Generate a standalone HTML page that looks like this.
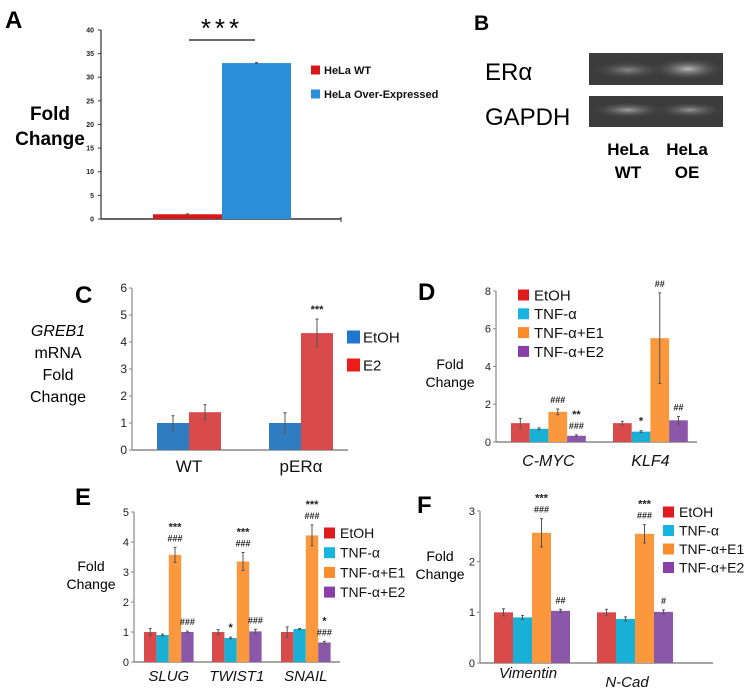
<!DOCTYPE html>
<html><head><meta charset="utf-8"><style>
body{margin:0;background:#fff}
svg{display:block;font-family:"Liberation Sans",Arial,sans-serif}
</style></head><body>
<svg id="s" width="747" height="695" viewBox="0 0 747 695" xmlns="http://www.w3.org/2000/svg">
<g>
<text x="474" y="30" font-size="21" font-weight="bold">B</text>
<text x="485" y="80" font-size="24">ERα</text>
<text x="485" y="125" font-size="24">GAPDH</text>
<defs><radialGradient id="bnd" cx="0.5" cy="0.5" r="0.5"><stop offset="0" stop-color="#bbb"/><stop offset="1" stop-color="#444" stop-opacity="0"/></radialGradient></defs>
<rect x="589" y="53" width="134" height="32" fill="#3c3c3c"/>
<ellipse cx="628" cy="70" rx="36" ry="9" fill="url(#bnd)" opacity="0.6"/>
<ellipse cx="688" cy="69" rx="36" ry="11" fill="url(#bnd)" opacity="1"/>
<rect x="589" y="96" width="134" height="31" fill="#3c3c3c"/>
<ellipse cx="628" cy="110" rx="36" ry="8" fill="url(#bnd)" opacity="0.8"/>
<ellipse cx="690" cy="110" rx="34" ry="8" fill="url(#bnd)" opacity="0.7"/>
<g font-size="17" font-weight="bold" text-anchor="middle">
<text x="628" y="155">HeLa</text>
<text x="628" y="178">WT</text>
<text x="687" y="155">HeLa</text>
<text x="687" y="178">OE</text>
</g></g>
</svg>
<script>
// Panel A
const aCats=["HeLa WT","HeLa Over-Expressed"];
const aVals=[1,33];
const aErr=[0.1,0.1];
const aTicks=[0,5,10,15,20,25,30,35,40];
// Panel C
const cCats=["WT","pERα"];
const cSeries=["EtOH","E2"];
const cEtOH=[1,1];
const cE2=[1.4,4.33];
const cEtOHErr=[0.27,0.38];
const cE2Err=[0.28,0.52];
const cTicks=[0,1,2,3,4,5,6];
// Panel D
const dCats=["C-MYC","KLF4"];
const dSeries=["EtOH","TNF-α","TNF-α+E1","TNF-α+E2"];
const dEtOH=[1.0,1.0];
const dTNF=[0.7,0.55];
const dE1=[1.6,5.5];
const dE2=[0.33,1.15];
const dErrEtOH=[0.25,0.1], dErrTNF=[0.05,0.05], dErrE1=[0.15,2.4], dErrE2=[0.05,0.2];
const dTicks=[0,2,4,6,8];
// Panel E
const eCats=["SLUG","TWIST1","SNAIL"];
const eEtOH=[1.0,1.0,1.0];
const eTNF=[0.9,0.8,1.1];
const eE1=[3.57,3.35,4.22];
const eE2=[1.0,1.02,0.65];
const eErrEtOH=[0.12,0.08,0.17], eErrTNF=[0.03,0.03,0.02], eErrE1=[0.25,0.3,0.35], eErrE2=[0.03,0.07,0.04];
const eTicks=[0,1,2,3,4,5];
// Panel F
const fCats=["Vimentin","N-Cad"];
const fEtOH=[1.0,1.0];
const fTNF=[0.9,0.87];
const fE1=[2.57,2.55];
const fE2=[1.03,1.01];
const fErrEtOH=[0.07,0.06], fErrTNF=[0.04,0.04], fErrE1=[0.28,0.18], fErrE2=[0.03,0.04];
const fTicks=[0,1,2,3];

const NS="http://www.w3.org/2000/svg";
const svg=document.getElementById('s');
function mk(tag,attrs,parent,txt){const e=document.createElementNS(NS,tag);for(const k in attrs)e.setAttribute(k,attrs[k]);if(txt!==undefined)e.textContent=txt;(parent||svg).appendChild(e);return e;}
function grp(name){const g=mk('g',{});


return g;}

function chart(o){
  const g=grp(o.name);
  const y=v=>o.y0-(v-o.ticks[0])/(o.ticks[o.ticks.length-1]-o.ticks[0])*(o.y0-o.y1);
  // axes
  const ya=mk('line',{x1:o.ax,y1:y(o.ticks[o.ticks.length-1]),x2:o.ax,y2:o.y0,stroke:o.axisColor,'stroke-width':1.2},g);
  
  
  const xa=mk('line',{x1:o.ax,y1:o.y0,x2:o.xEnd,y2:o.y0,stroke:o.axisColor,'stroke-width':1.5},g);
  
  
  o.ticks.forEach(t=>{
    mk('line',{x1:o.ax-3,y1:y(t),x2:o.ax,y2:y(t),stroke:o.axisColor},g);
    if(o.hideTick && o.hideTick(t)) return;
    const tl=mk('text',{x:o.ax-(o.tickGap||5),y:y(t)+o.tickFs*0.35,'font-size':o.tickFs,'text-anchor':'end',fill:'#222','font-weight':o.tickBold?'bold':'normal'},g,t);
    
    
  });
  o.series.forEach((s,si)=>{
    s.vals.forEach((v,ci)=>{
      const x=o.gx[ci]+si*o.bw;
      const r=mk('rect',{x:x,y:y(v),width:o.bw,height:o.y0-y(v),fill:s.color},g);
      
      
      const e=s.err[ci];
      if(e>0){mk('line',{x1:x+o.bw/2,x2:x+o.bw/2,y1:y(v+e),y2:y(v-e),stroke:'#555','stroke-width':1},g);
      mk('line',{x1:x+o.bw/2-1.5,x2:x+o.bw/2+1.5,y1:y(v+e),y2:y(v+e),stroke:'#555'},g);
      mk('line',{x1:x+o.bw/2-1.5,x2:x+o.bw/2+1.5,y1:y(v-e),y2:y(v-e),stroke:'#555'},g);}
      const ann=s.ann&&s.ann[ci];
      if(ann){ann.forEach((a,k)=>{const t=mk('text',{x:x+o.bw/2,y:y(v+e)-6-(ann.length-1-k)*11,'font-size':a.indexOf('#')>=0?9:11,'text-anchor':'middle',fill:'#222','font-weight':'bold'},g,a);
        
        });}
    });
  });
  if(o.catY){o.cats.forEach((c,ci)=>{const t=mk('text',{x:o.gx[ci]+o.bw*o.series.length/2+(o.catDx?o.catDx[ci]:0),y:o.catY+(o.catDy?o.catDy[ci]:0),'font-size':o.catFs||17,'text-anchor':'middle','font-style':o.catItalic?'italic':'normal',fill:'#111'},g,c);
    
    });}
  if(o.legend){o.legend.items.forEach((it,i)=>{
    const ly=o.legend.y+i*o.legend.dy;
    const sq=mk('rect',{x:o.legend.x,y:ly-o.legend.sq/2,width:o.legend.sq,height:o.legend.sq,fill:it[1]},g);
    
    
    const t=mk('text',{x:o.legend.x+o.legend.sq+o.legend.gap,y:ly+o.legend.fs*0.36,'font-size':o.legend.fs,fill:'#111','font-weight':o.legend.bold?'bold':'normal'},g,it[0]);
    
    
  });}
  return {g,y};
}
const RED='#d94b4b',TEAL='#19b0d6',ORG='#fb973c',PUR='#8b58a9';
const leg4=[["EtOH","#e11b1b"],["TNF-α","#18b4e0"],["TNF-α+E1","#fb8c2c"],["TNF-α+E2","#8a3fa8"]];

// A
const A=chart({name:'panel-a-chart',ax:101,y0:219,y1:30,xEnd:341,ticks:aTicks,tickFs:7,tickBold:true,tickGap:7,axisColor:'#333',
  cats:['hela'],gx:[153],bw:69,
  series:[{vals:[aVals[0]],err:[aErr[0]],color:'#d81818'},{vals:[aVals[1]],err:[aErr[1]],color:'#2a8ed8'}],
  legend:{x:311,y:70,dy:24,sq:9,gap:4,fs:11,bold:true,items:[[aCats[0],'#d81818'],[aCats[1],'#2a8ed8']]}});
mk('line',{x1:341,y1:217,x2:341,y2:222,stroke:'#333'},A.g);
let t;
t=mk('text',{x:5,y:28,'font-size':24,'font-weight':'bold'},A.g,'A');
t=mk('text',{x:222,y:37,'font-size':26,'text-anchor':'middle','letter-spacing':'4'},A.g,'***');
mk('line',{x1:189,y1:40,x2:255,y2:40,stroke:'#111','stroke-width':1.3},A.g);
t=mk('text',{x:50,y:120,'font-size':19,'font-weight':'bold','text-anchor':'middle'},A.g,'Fold');
t=mk('text',{x:50,y:145,'font-size':19,'font-weight':'bold','text-anchor':'middle'},A.g,'Change');

// C
const C=chart({name:'panel-c-chart',ax:132,y0:450,y1:288,xEnd:348,ticks:cTicks,tickFs:12,axisColor:'#888',
  cats:cCats,gx:[157,269],bw:32,catY:472,catFs:17,
  series:[{vals:cEtOH,err:cEtOHErr,color:'#2f7dc0'},{vals:cE2,err:cE2Err,color:RED,ann:[null,['***']]}],
  legend:{x:347,y:337,dy:28,sq:13,gap:3,fs:15,items:[[cSeries[0],'#1f77d0'],[cSeries[1],'#ee1b1b']]}});
t=mk('text',{x:75,y:303,'font-size':24,'font-weight':'bold'},C.g,'C');
[['GREB1',336,true],['mRNA',358],['Fold',380],['Change',402]].forEach(l=>{t=mk('text',{x:58,y:l[1],'font-size':16,'text-anchor':'middle','font-style':l[2]?'italic':'normal'},C.g,l[0]);});

// D
const D=chart({name:'panel-d-chart',ax:496,y0:442,y1:291,xEnd:697,ticks:dTicks,tickFs:11,axisColor:'#888',
  cats:dCats,gx:[511,613],bw:18.7,catY:466,catFs:16,catItalic:true,
  series:[{vals:dEtOH,err:dErrEtOH,color:RED},{vals:dTNF,err:dErrTNF,color:TEAL,ann:[null,['*']]},{vals:dE1,err:dErrE1,color:ORG,ann:[['###'],['##']]},{vals:dE2,err:dErrE2,color:PUR,ann:[['**','###'],['##']]}],
  legend:{x:518,y:295,dy:18.8,sq:11,gap:5,fs:15,items:leg4}});
t=mk('text',{x:418,y:300,'font-size':24,'font-weight':'bold'},D.g,'D');
t=mk('text',{x:450,y:369,'font-size':14,'text-anchor':'middle'},D.g,'Fold');
t=mk('text',{x:450,y:387,'font-size':14,'text-anchor':'middle'},D.g,'Change');

// E
const E=chart({name:'panel-e-chart',ax:134,y0:662,y1:512,xEnd:340,ticks:eTicks,tickFs:11,axisColor:'#888',
  cats:eCats,gx:[144,212,281],bw:12.4,catY:681,catFs:15,catItalic:true,
  series:[{vals:eEtOH,err:eErrEtOH,color:RED},{vals:eTNF,err:eErrTNF,color:TEAL,ann:[null,['*'],null]},{vals:eE1,err:eErrE1,color:ORG,ann:[['***','###'],['***','###'],['***','###']]},{vals:eE2,err:eErrE2,color:PUR,ann:[['###'],['###'],['*','###']]}],
  legend:{x:324,y:533,dy:19.7,sq:11,gap:5,fs:14,items:leg4}});
t=mk('text',{x:75,y:505,'font-size':24,'font-weight':'bold'},E.g,'E');
t=mk('text',{x:91,y:571,'font-size':14,'text-anchor':'middle'},E.g,'Fold');
t=mk('text',{x:91,y:589,'font-size':14,'text-anchor':'middle'},E.g,'Change');

// F
const F=chart({name:'panel-f-chart',ax:480,y0:663,y1:511,xEnd:713,ticks:fTicks,tickFs:11,axisColor:'#888',
  cats:fCats,gx:[494,597],bw:19,catY:678,catFs:15,catItalic:true,catDy:[0,9],catDx:[-4,-8],
  series:[{vals:fEtOH,err:fErrEtOH,color:RED},{vals:fTNF,err:fErrTNF,color:TEAL},{vals:fE1,err:fErrE1,color:ORG,ann:[['***','###'],['***','###']]},{vals:fE2,err:fErrE2,color:PUR,ann:[['##'],['#']]}],
  legend:{x:663,y:512,dy:18.5,sq:11,gap:5,fs:14,items:leg4}});
t=mk('text',{x:417,y:513,'font-size':24,'font-weight':'bold'},F.g,'F');
t=mk('text',{x:440,y:561,'font-size':14,'text-anchor':'middle'},F.g,'Fold');
t=mk('text',{x:440,y:579,'font-size':14,'text-anchor':'middle'},F.g,'Change');
</script>
</body></html>
